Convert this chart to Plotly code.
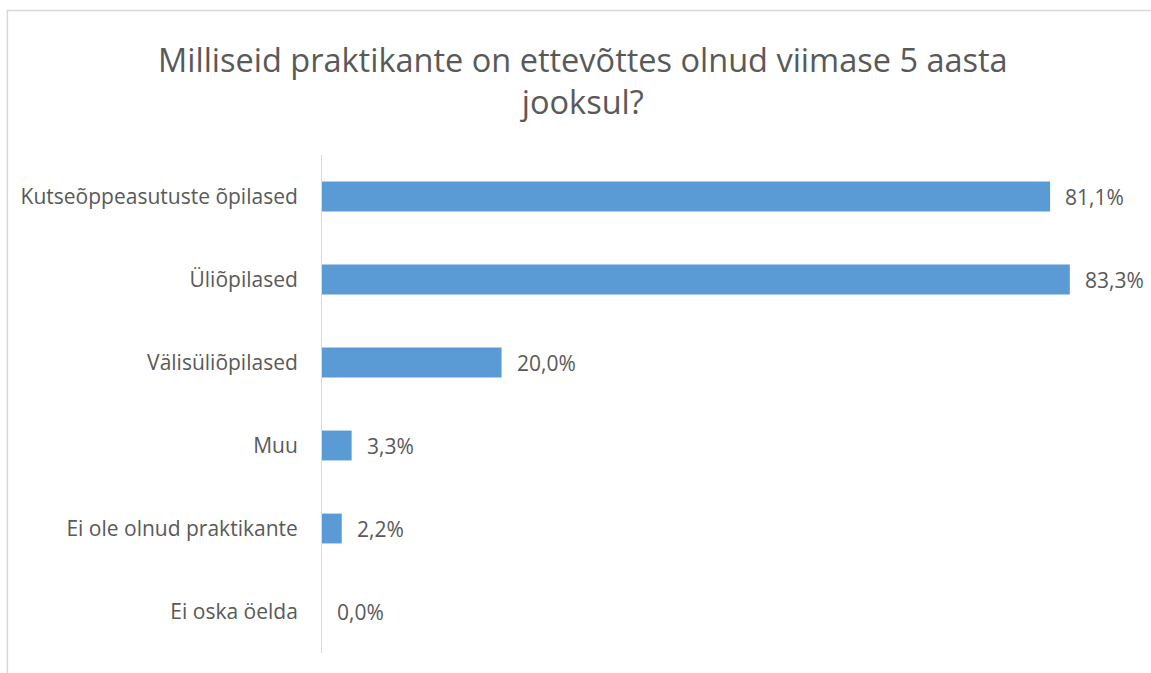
import plotly.graph_objects as go

categories = [
    "Kutseõppeasutuste õpilased",
    "Üliõpilased",
    "Välisüliõpilased",
    "Muu",
    "Ei ole olnud praktikante",
    "Ei oska öelda",
]
shares = [81.1, 83.3, 20.0, 3.3, 2.2, 0.0]
value_labels = ["81,1%", "83,3%", "20,0%", "3,3%", "2,2%", "0,0%"]

title_text = "Milliseid praktikante on ettevõttes olnud viimase 5 aasta<br>jooksul?"

FONT = "Open Sans"
TEXT_GRAY = "#595959"
BAR_BLUE = "#5B9BD5"

fig = go.Figure(
    go.Bar(
        x=shares,
        y=categories,
        orientation="h",
        width=0.36,
        marker=dict(color=BAR_BLUE, line=dict(width=0)),
        hoverinfo="skip",
    )
)

# value labels just right of each bar end
for cat, val, lab in zip(categories, shares, value_labels):
    fig.add_annotation(
        x=val, y=cat, text=lab, showarrow=False,
        xanchor="left", yanchor="middle", xshift=13,
        font=dict(family=FONT, size=21, color=TEXT_GRAY),
    )

# chart title, two centred lines
fig.add_annotation(
    xref="paper", yref="paper", x=0.323, y=1.1486,
    text=title_text, showarrow=False,
    xanchor="center", yanchor="middle", align="center",
    font=dict(family=FONT, size=32.5, color=TEXT_GRAY),
)

# light frame around the whole chart area
fig.add_shape(
    type="rect", xref="paper", yref="paper",
    x0=-0.3894, x1=1.2, y0=-0.2, y1=1.2902,
    line=dict(color="#D9D9D9", width=1.5), fillcolor="rgba(0,0,0,0)",
    layer="below",
)

fig.update_layout(
    width=1151, height=673,
    margin=dict(l=322, r=21, t=155, b=20),
    paper_bgcolor="white", plot_bgcolor="white",
    showlegend=False,
    xaxis=dict(range=[0, 90], visible=False, fixedrange=True),
    yaxis=dict(
        categoryorder="array", categoryarray=categories,
        autorange="reversed",
        showline=True, linecolor="#D9D9D9", linewidth=1,
        showgrid=False, zeroline=False, ticks="",
        ticklabelstandoff=19,
        tickfont=dict(family=FONT, size=21, color=TEXT_GRAY),
    ),
)

fig.write_html("out.html")
